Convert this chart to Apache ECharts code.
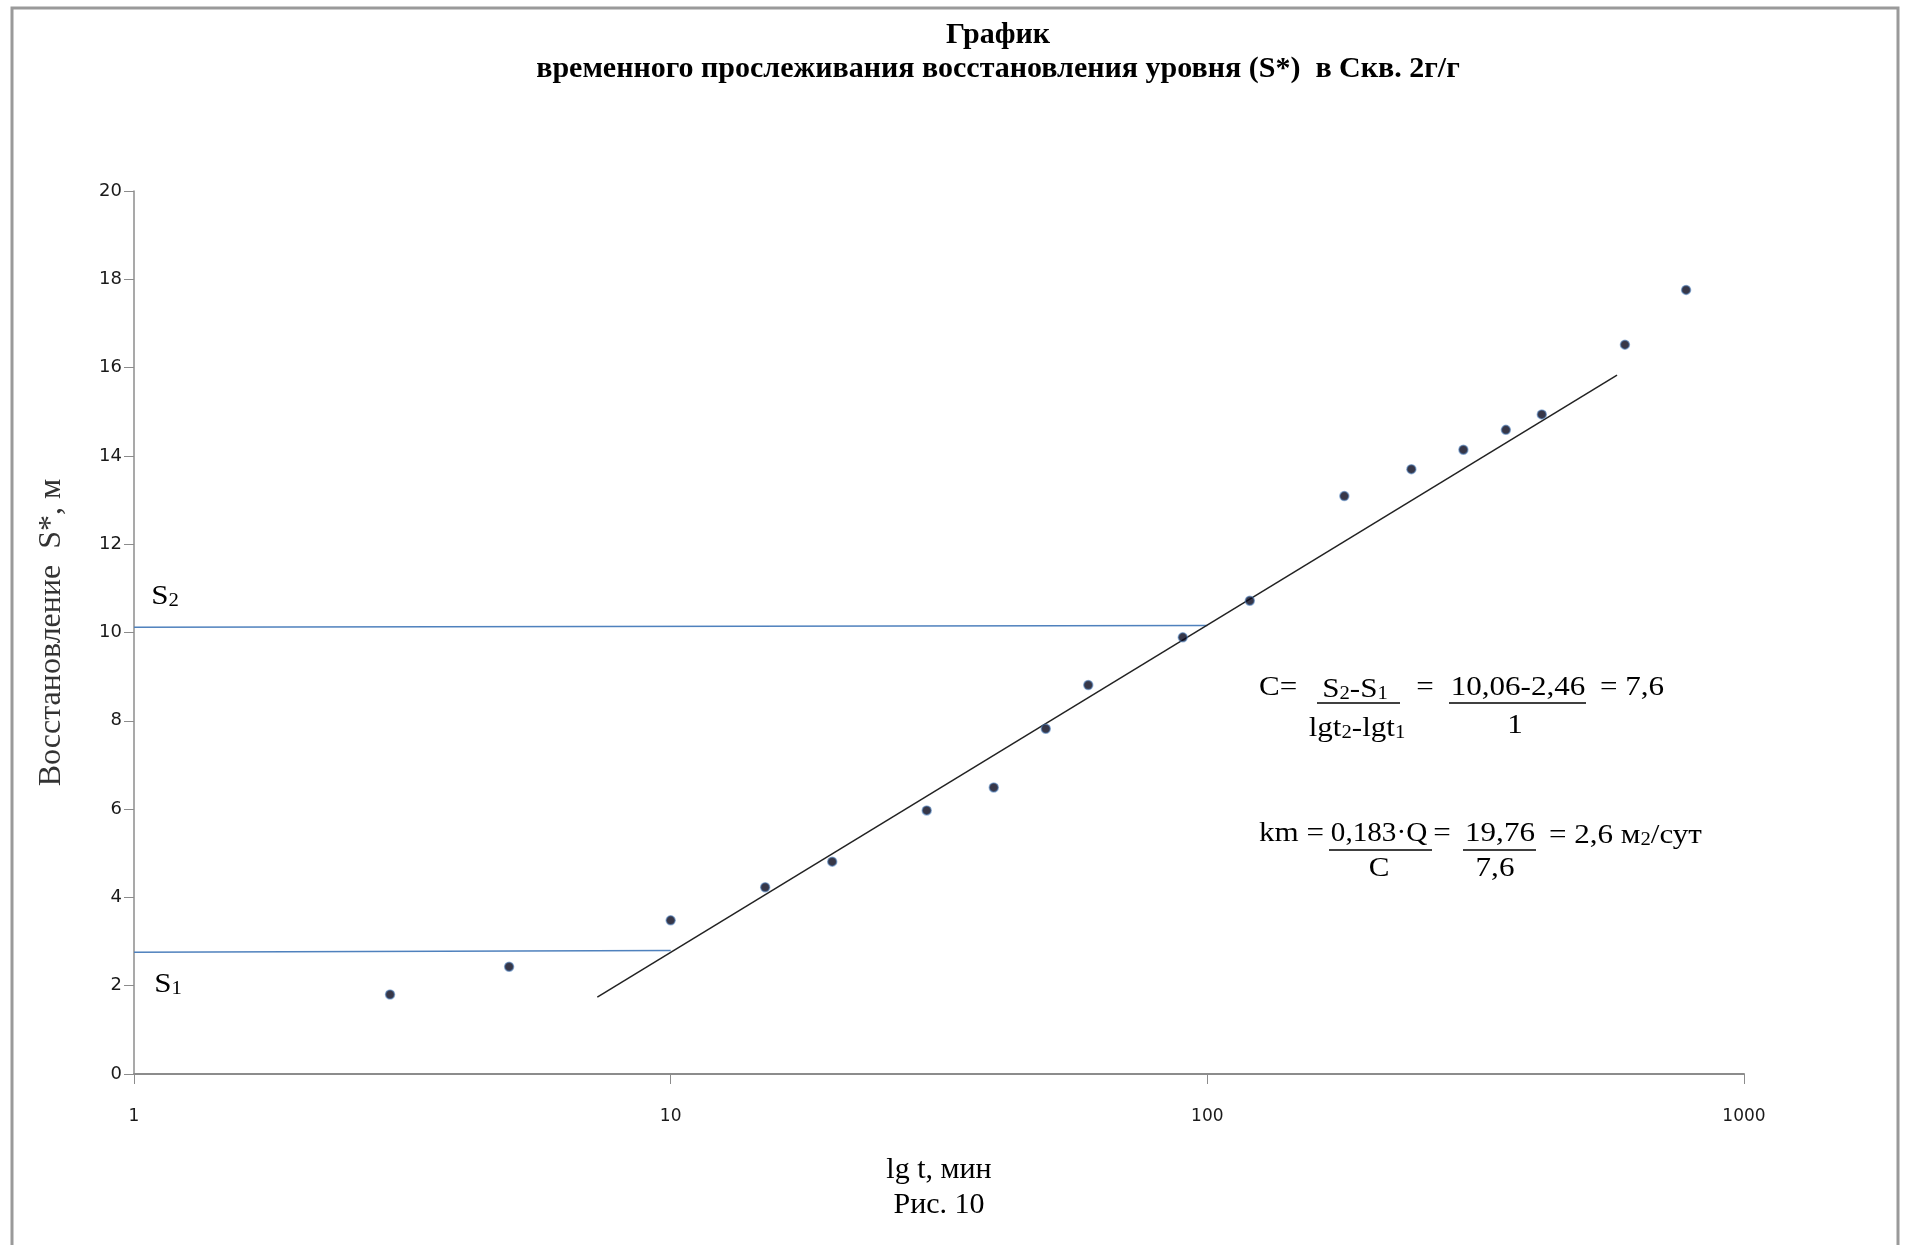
<!DOCTYPE html>
<html>
<head>
<meta charset="utf-8">
<script src="https://cdn.jsdelivr.net/npm/echarts@6/dist/echarts.min.js"></script>
<style>
  html, body { margin: 0; padding: 0; background: #fff; }
  #chart { width: 1912px; height: 1245px; }
</style>
</head>
<body>
<div id="chart"></div>
<script>
// время, мин и восстановление уровня S*, м
const timeMin = [3, 5, 10, 15, 20, 30, 40, 50, 60, 90, 120, 180, 240, 300, 360, 420, 600, 780]
const recovery = [1.80, 2.43, 3.48, 4.23, 4.81, 5.97, 6.49, 7.82, 8.81, 9.89, 10.72, 13.09, 13.70, 14.14, 14.59, 14.94, 16.52, 17.76]

// линия аппроксимации
const trendT = [7.3, 580]
const trendS = [1.74, 15.83]

// уровни S1 и S2
const s1T = [1, 10]
const s1S = [2.76, 2.80]
const s2T = [1, 100]
const s2S = [10.12, 10.16]

const yTicks = { min: 0, max: 20, step: 2 }
const xRange = { min: 1, max: 1000 }

const serif = '"Liberation Serif", "Times New Roman", serif'
const sans = '"DejaVu Sans", Verdana, sans-serif'

const pairs = (xs, ys) => xs.map((x, i) => [x, ys[i]])

// текст на рисунке немного растянут по горизонтали
const stretch = 1.15

const subRich = {
  n: { fontFamily: serif, fontSize: 27, color: '#000', verticalAlign: 'bottom', lineHeight: 31 },
  s: { fontFamily: serif, fontSize: 18, color: '#000', verticalAlign: 'bottom', lineHeight: 29 }
}

const txt = (x, y, text, align, sx) => ({
  type: 'text',
  x: x,
  y: y,
  scaleX: sx || stretch,
  style: {
    text: text,
    rich: subRich,
    font: '27px ' + serif,
    fill: '#000',
    align: align || 'center',
    verticalAlign: 'middle'
  }
})

const bar = (x1, x2, y) => ({
  type: 'line',
  shape: { x1: x1, y1: y, x2: x2, y2: y },
  style: { stroke: '#000', lineWidth: 1.5 }
})

const initOption = () => {
  let option = {
    backgroundColor: '#fff',
    animation: false,
    title: {
      text: 'График',
      subtext: 'временного прослеживания восстановления уровня (S*)  в Скв. 2г/г',
      left: 998,
      top: 20,
      textAlign: 'center',
      padding: 0,
      itemGap: 4,
      textStyle: { fontFamily: serif, fontSize: 30, fontWeight: 'bold', color: '#000' },
      subtextStyle: { fontFamily: serif, fontSize: 30, fontWeight: 'bold', color: '#000' }
    },
    grid: {
      left: 134,
      right: 168,
      top: 191,
      bottom: 171
    },
    xAxis: {
      type: 'log',
      logBase: 10,
      min: xRange.min,
      max: xRange.max,
      name: 'lg t, мин\nРис. 10',
      nameLocation: 'middle',
      nameGap: 79,
      nameTextStyle: { fontFamily: serif, fontSize: 30, color: '#000', lineHeight: 35 },
      axisLine: { lineStyle: { color: '#8c8c8c', width: 2 } },
      axisTick: { show: true, length: 10, lineStyle: { color: '#8c8c8c', width: 1 } },
      axisLabel: {
        margin: 34,
        fontFamily: sans,
        fontSize: 17,
        color: '#1a1a1a',
        formatter: (v) => String(Math.round(v))
      },
      splitLine: { show: false },
      minorTick: { show: false }
    },
    yAxis: {
      type: 'value',
      min: yTicks.min,
      max: yTicks.max,
      interval: yTicks.step,
      name: 'Восстановление  S*, м',
      nameLocation: 'middle',
      nameGap: 66,
      nameTextStyle: { fontFamily: serif, fontSize: 32, color: '#333' },
      axisLine: { show: true, lineStyle: { color: '#8c8c8c', width: 1.5 } },
      axisTick: { show: true, length: 10, lineStyle: { color: '#8c8c8c', width: 1 } },
      axisLabel: { margin: 12, fontFamily: sans, fontSize: 18, color: '#1a1a1a' },
      splitLine: { show: false }
    },
    series: [
      {
        name: 'S1',
        type: 'line',
        data: pairs(s1T, s1S),
        symbol: 'none',
        lineStyle: { color: '#4f81bd', width: 1.5 },
        z: 2
      },
      {
        name: 'S2',
        type: 'line',
        data: pairs(s2T, s2S),
        symbol: 'none',
        lineStyle: { color: '#4f81bd', width: 1.5 },
        z: 2
      },
      {
        name: 'trend',
        type: 'line',
        data: pairs(trendT, trendS),
        symbol: 'none',
        lineStyle: { color: '#222', width: 1.5 },
        z: 3
      },
      {
        name: 'S*',
        type: 'scatter',
        data: pairs(timeMin, recovery),
        symbol: 'circle',
        symbolSize: 9,
        itemStyle: { color: '#05051a', borderColor: 'rgba(79,129,189,0.7)', borderWidth: 1.5 },
        z: 4
      }
    ],
    graphic: [
      {
        type: 'rect',
        shape: { x: 12, y: 8, width: 1886, height: 1300 },
        style: { fill: 'none', stroke: '#9a9a9a', lineWidth: 3 },
        silent: true
      },
      txt(165, 595, '{n|S}{s|2}'),
      txt(168, 983, '{n|S}{s|1}'),

      txt(1259, 688, 'C=', 'left'),
      txt(1355, 688, '{n|S}{s|2}{n|-S}{s|1}'),
      bar(1317, 1400, 703),
      txt(1357, 727, '{n|lgt}{s|2}{n|-lgt}{s|1}'),
      txt(1425, 688, '='),
      txt(1518, 688, '10,06-2,46'),
      bar(1449, 1586, 703),
      txt(1515, 726, '1'),
      txt(1600, 688, '= 7,6', 'left'),

      txt(1259, 834, 'km =', 'left'),
      txt(1379, 834, '0,183·Q', 'center', 1.08),
      bar(1329, 1432, 850),
      txt(1379, 869, 'C'),
      txt(1442, 834, '='),
      txt(1500, 834, '19,76'),
      bar(1463, 1536, 850),
      txt(1495, 869, '7,6'),
      txt(1549, 834, '{n|= 2,6 м}{s|2}{n|/сут}', 'left')
    ]
  }
  return option
}

const initChart = () => {
  echarts.init(document.getElementById('chart')).setOption(initOption())
}

initChart()
</script>
</body>
</html>
